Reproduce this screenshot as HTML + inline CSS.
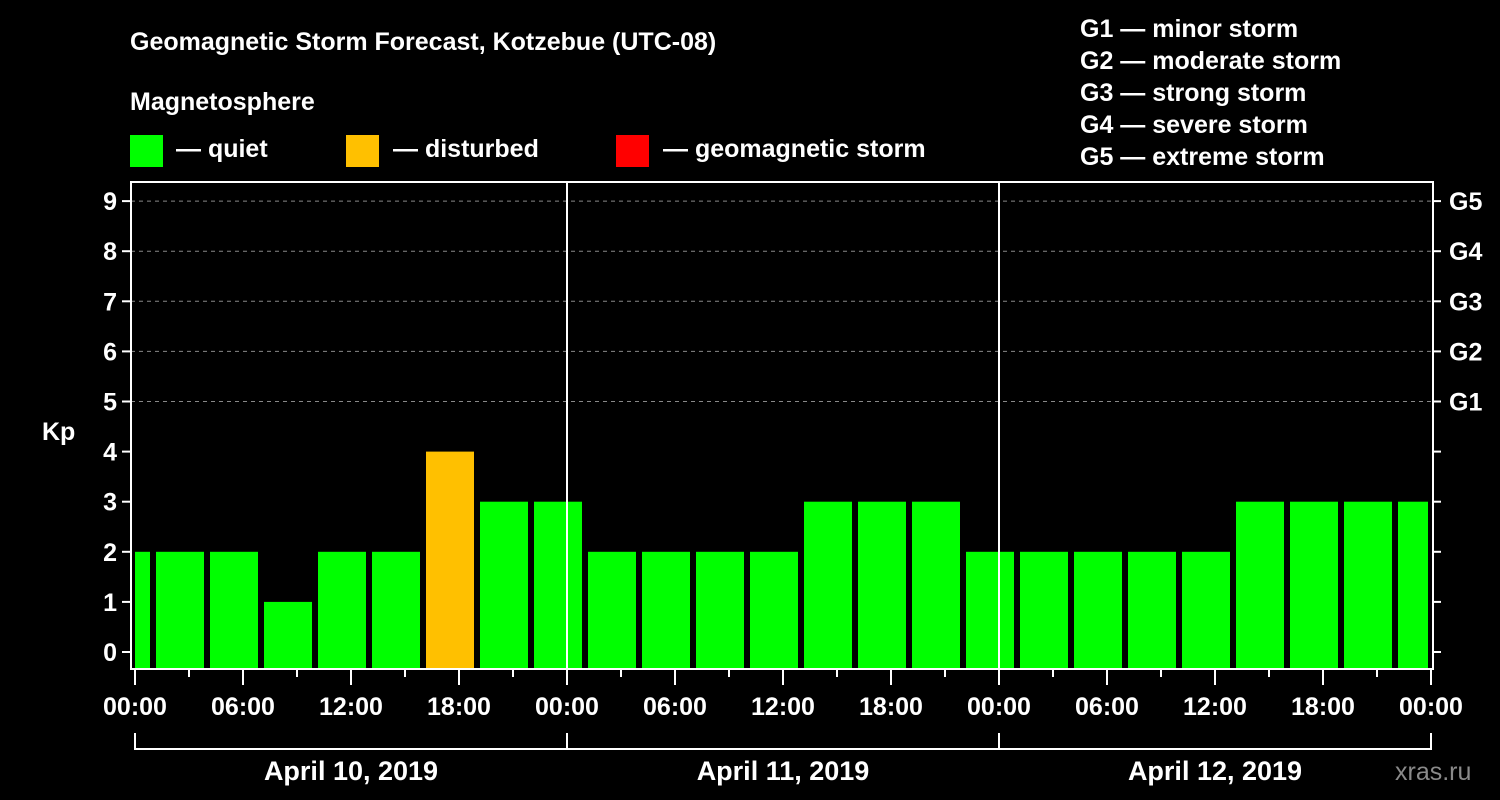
<!DOCTYPE html>
<html><head><meta charset="utf-8"><style>
html,body{margin:0;padding:0;background:#000;width:1500px;height:800px;overflow:hidden}
svg text{font-family:"Liberation Sans",Arial,sans-serif;font-weight:bold;fill:#fff}
</style></head><body>
<svg id="chart" width="1500" height="800" xmlns="http://www.w3.org/2000/svg">
<rect width="1500" height="800" fill="#000"/>
<text x="130" y="50" font-size="25">Geomagnetic Storm Forecast, Kotzebue (UTC-08)</text>
<text x="130" y="110" font-size="25">Magnetosphere</text>
<g><rect x="130" y="135" width="33" height="32" fill="#00ff00"/><text x="176" y="157" font-size="25">— quiet</text></g>
<g><rect x="346" y="135" width="33" height="32" fill="#ffc000"/><text x="393" y="157" font-size="25">— disturbed</text></g>
<g><rect x="616" y="135" width="33" height="32" fill="#ff0000"/><text x="663" y="157" font-size="25">— geomagnetic storm</text></g>
<g font-size="25">
<text x="1080" y="37">G1 — minor storm</text>
<text x="1080" y="69">G2 — moderate storm</text>
<text x="1080" y="101">G3 — strong storm</text>
<text x="1080" y="133">G4 — severe storm</text>
<text x="1080" y="165">G5 — extreme storm</text>
</g>
<text x="42" y="440" font-size="25">Kp</text>
<g id="grid"></g><g id="bars"></g><g id="axes"></g>
<text x="1395" y="780" font-size="25" fill="#888" style="fill:#8a8a8a;font-weight:normal">xras.ru</text>
</svg>
<script>
const kpValues=[2,2,2,1,2,2,4,3,3,2,2,2,2,3,3,3,2,2,2,2,2,3,3,3,3];
const slotStartHours=[-2,1,4,7,10,13,16,19,22,25,28,31,34,37,40,43,46,49,52,55,58,61,64,67,70];
const yTicks=[0,1,2,3,4,5,6,7,8,9];
const gLabels=["G1","G2","G3","G4","G5"];
const gLevels=[5,6,7,8,9];
const xTickLabels=["00:00","06:00","12:00","18:00","00:00","06:00","12:00","18:00","00:00","06:00","12:00","18:00","00:00"];
const dayLabels=["April 10, 2019","April 11, 2019","April 12, 2019"];
const NS="http://www.w3.org/2000/svg";
const X0=135,PXH=18,Y0=652,PXK=50.1,LEFT=131,RIGHT=1433,TOP=182,BOT=669,XEND=1431;
const x=h=>X0+h*PXH, y=k=>Y0-k*PXK;
function mk(tag,attrs,parent,txt){const e=document.createElementNS(NS,tag);for(const k in attrs)e.setAttribute(k,attrs[k]);if(txt!==undefined)e.textContent=txt;document.getElementById(parent).appendChild(e);return e;}
yTicks.forEach(k=>{if(k>=5){const l=mk('line',{x1:LEFT,x2:RIGHT,y1:y(k),y2:y(k),stroke:'#888','stroke-dasharray':'4,4','stroke-width':1},'grid');

}});
kpValues.forEach((v,i)=>{let a=x(slotStartHours[i])+3,b=x(slotStartHours[i]+3)-3;a=Math.max(a,X0);b=Math.min(b,XEND-3);
const c=v>=5?'#ff0000':(v>=4?'#ffc000':'#00ff00');
const r=mk('rect',{x:a,y:y(v),width:b-a,height:BOT-1-y(v),fill:c},'bars');

});
mk('rect',{x:LEFT,y:TOP,width:RIGHT-LEFT,height:BOT-TOP,fill:'none',stroke:'#fff','stroke-width':2},'axes');
[1,2].forEach(d=>{const l=mk('line',{x1:x(24*d),x2:x(24*d),y1:TOP,y2:BOT,stroke:'#fff','stroke-width':2},'axes');

});
yTicks.forEach(k=>{mk('line',{x1:LEFT-9,x2:LEFT,y1:y(k),y2:y(k),stroke:'#fff','stroke-width':2},'axes');
mk('line',{x1:RIGHT,x2:RIGHT+8,y1:y(k),y2:y(k),stroke:'#fff','stroke-width':2},'axes');
const t=mk('text',{x:LEFT-14,y:y(k)+9,'font-size':25,'text-anchor':'end'},'axes',String(k));

});
gLabels.forEach((g,i)=>{const t=mk('text',{x:1449,y:y(gLevels[i])+9,'font-size':25},'axes',g);

});
for(let h=0;h<=72;h+=3){const major=h%6===0;mk('line',{x1:x(h),x2:x(h),y1:BOT,y2:major?685:677,stroke:'#fff','stroke-width':2},'axes');}
xTickLabels.forEach((s,i)=>{const t=mk('text',{x:x(i*6),y:715,'font-size':25,'text-anchor':'middle'},'axes',s);

});
mk('path',{d:`M${x(0)},733V749H${x(72)}V733M${x(24)},733V749M${x(48)},733V749`,stroke:'#fff','stroke-width':2,fill:'none'},'axes');
dayLabels.forEach((s,i)=>{const t=mk('text',{x:x(24*i+12),y:780,'font-size':27,'text-anchor':'middle'},'axes',s);

});
</script>
</body></html>
